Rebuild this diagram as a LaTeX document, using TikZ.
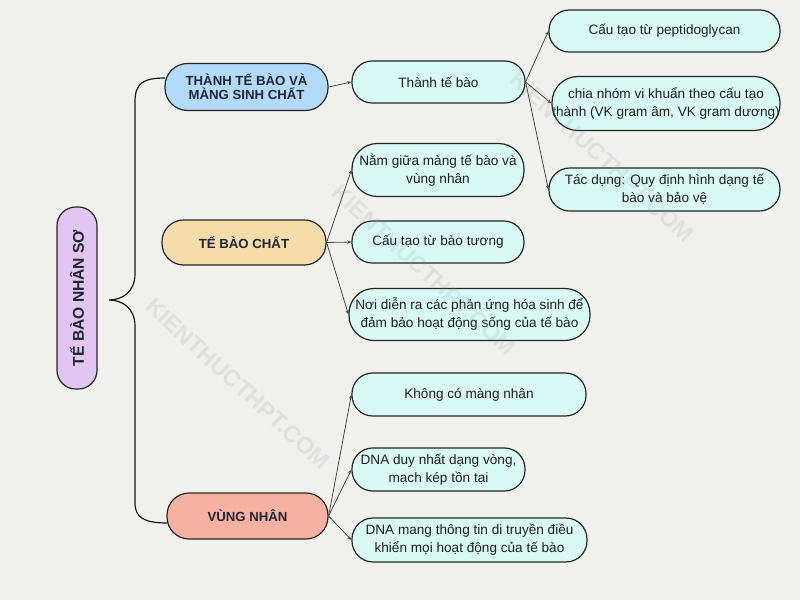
\documentclass[tikz,border=0pt]{standalone}
\usepackage{fontspec}
\setmainfont{Liberation Sans}
\usetikzlibrary{arrows.meta,calc}
\definecolor{bg}{HTML}{F0F0EC}
\definecolor{leaf}{HTML}{D9FAF4}
\definecolor{blueh}{HTML}{B4DAF9}
\definecolor{orangeh}{HTML}{F6DCA9}
\definecolor{redh}{HTML}{F6B1A2}
\definecolor{lav}{HTML}{E2C6F1}
\definecolor{edgec}{HTML}{4A4A4A}
\definecolor{headtxt}{HTML}{1E2636}
\definecolor{wm}{HTML}{8C98A8}
\begin{document}
\begin{tikzpicture}[x=0.75pt,y=-0.75pt,
  pill/.style={draw=black!85,line width=0.9pt,inner sep=0pt,align=center},
  sz/.style 2 args={minimum width=#1*0.75pt,minimum height=#2*0.75pt,rounded corners=#2*0.36pt},
  leafbox/.style={pill,fill=leaf,text=black!88,font=\fontsize{10.2}{13.5}\selectfont},
  headbox/.style={pill,fill=#1,text=headtxt,font=\bfseries\fontsize{9.9}{10.5}\selectfont},
  link/.style={draw=edgec,line width=0.6pt,-{Stealth[length=3.2pt,width=2.6pt]}},
  wmark/.style={text=wm,text opacity=0.16,font=\bfseries\fontsize{17.5}{17.5}\selectfont,rotate=-42.5}
]
\fill[bg] (0,0) rectangle (800,600);
\useasboundingbox (0,0) rectangle (800,600);

% root
\node[pill,fill=lav,rotate=90,minimum width=182*0.75pt,minimum height=40*0.75pt,rounded corners=14pt,
      text=headtxt,font=\bfseries\fontsize{11.7}{12}\selectfont] (root) at (77,298) {TẾ BÀO NHÂN SƠ};

% level 1
\node[headbox=blueh,sz={163}{47}] (blue) at (246.5,87) {THÀNH TẾ BÀO VÀ\\MÀNG SINH CHẤT};
\node[headbox=orangeh,sz={164}{45}] (orange) at (244,242.5) {TẾ BÀO CHẤT};
\node[headbox=redh,sz={161}{46}] (red) at (247.5,516) {VÙNG NHÂN};

% level 2
\node[leafbox,sz={173}{42}] (tb) at (438.5,82) {Thành tế bào};
\node[leafbox,sz={231}{42}] (p1) at (664.5,31) {Cấu tạo từ peptidoglycan};
\node[leafbox,sz={228}{54}] (p2) at (666,103.5) {chia nhóm vi khuẩn theo cấu tạo\\thành (VK gram âm, VK gram dương)};
\node[leafbox,sz={231}{43}] (p3) at (664.5,189.5) {Tác dụng: Quy định hình dạng tế\\bào và bảo vệ};

\node[leafbox,sz={172}{53}] (n1) at (438,170) {Nằm giữa màng tế bào và\\vùng nhân};
\node[leafbox,sz={172}{42}] (n2) at (438,242) {Cấu tạo từ bào tương};
\node[leafbox,sz={241}{52}] (n3) at (469.5,314.5) {Nơi diễn ra các phản ứng hóa sinh để\\đảm bảo hoạt động sống của tế bào};

\node[leafbox,sz={234}{43}] (v1) at (469,394.5) {Không có màng nhân};
\node[leafbox,sz={173}{43}] (v2) at (438.5,469.5) {DNA duy nhất dạng vòng,\\mạch kép tồn tại};
\node[leafbox,sz={235}{44}] (v3) at (469.5,540) {DNA mang thông tin di truyền điều\\khiển mọi hoạt động của tế bào};

% brace
\coordinate (btop) at ($(blue.west)+(1,-9)$);
\coordinate (bbot) at ($(red.west)+(1,7)$);
\coordinate (btip) at (109,300);
\draw[black!90,line width=0.9pt]
  (btop) .. controls (142,78) and (135,84) .. (135,102)
  -- (135,274) .. controls (135,292) and (122,300) .. (btip)
  .. controls (122,300) and (135,308) .. (135,326)
  -- (135,503) .. controls (135,518) and (145,523) .. (bbot);

% links
\draw[link] (blue.east) -- (tb.west);
\draw[link] (tb.east) -- (p1.west);
\draw[link] (tb.east) -- (p2.west);
\draw[link] (tb.east) -- (p3.west);
\draw[link] (orange.east) -- (n1.west);
\draw[link] (orange.east) -- (n2.west);
\draw[link] (orange.east) -- (n3.west);
\draw[link] (red.east) -- (v1.west);
\draw[link] (red.east) -- (v2.west);
\draw[link] (red.east) -- (v3.west);

% watermarks
\node[wmark] (wm1) at (602,157) {KIENTHUCTHPT.COM};
\node[wmark] (wm2) at (424,270) {KIENTHUCTHPT.COM};
\node[wmark] (wm3) at (238,384) {KIENTHUCTHPT.COM};
\end{tikzpicture}
\end{document}
